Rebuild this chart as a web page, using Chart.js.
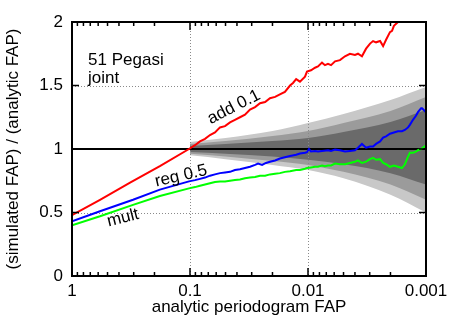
<!DOCTYPE html>
<html>
<head>
<meta charset="utf-8">
<script src="https://cdn.jsdelivr.net/npm/chart.js@4.4.1/dist/chart.umd.min.js"></script>
<style>
    html, body { margin: 0; padding: 0; background: #fff; }
</style>
</head>
<body>
<canvas id="myChart" width="458" height="321"></canvas>
<script>
// tick labels
const xTicks = [1, 0.1, 0.01, 0.001];
const yTicks = [0, 0.5, 1, 1.5, 2];

// "add 0.1" curve
const redP = [1, 0.579, 0.322, 0.180, 0.102, 0.0907, 0.0823, 0.0746, 0.0677, 0.0614, 0.0557, 0.0505, 0.0458, 0.0416, 0.0377, 0.0342, 0.0310, 0.0281, 0.0255, 0.0231, 0.0210, 0.0190, 0.0173, 0.0157, 0.0142, 0.0134, 0.0126, 0.0117, 0.0106, 0.0102,
    0.00943, 0.00872, 0.00823, 0.00761, 0.00718, 0.00677, 0.00638, 0.00590, 0.00536, 0.00486, 0.00441, 0.00400, 0.00377, 0.00349, 0.00322, 0.00298, 0.00281, 0.00265, 0.00245, 0.00231, 0.00218, 0.00202, 0.00194, 0.00187, 0.00173, 0.00160];
const redY = [0.48, 0.60, 0.735, 0.865, 1.0, 1.03, 1.06, 1.08, 1.11, 1.13, 1.17, 1.18, 1.21, 1.23, 1.25, 1.27, 1.31, 1.33, 1.36, 1.37, 1.40, 1.41, 1.43, 1.45, 1.50, 1.52, 1.55, 1.53, 1.57, 1.61,
    1.62, 1.64, 1.65, 1.68, 1.66, 1.67, 1.66, 1.69, 1.70, 1.73, 1.75, 1.74, 1.75, 1.73, 1.79, 1.83, 1.85, 1.84, 1.85, 1.81, 1.86, 1.92, 1.93, 1.97, 2.00, 2.05];

// "reg 0.5" curve
const blueP = [1, 0.579, 0.304, 0.180, 0.102, 0.0907, 0.0823, 0.0746, 0.0677, 0.0614, 0.0557, 0.0505, 0.0458, 0.0416, 0.0377, 0.0342, 0.0310, 0.0281, 0.0265, 0.0245, 0.0227, 0.0210, 0.0190, 0.0173, 0.0157, 0.0142, 0.0126, 0.0117, 0.0106, 0.0102,
    0.00981, 0.00943, 0.00872, 0.00823, 0.00761, 0.00677, 0.00638, 0.00590, 0.00536, 0.00486, 0.00441, 0.00400, 0.00377, 0.00349, 0.00322, 0.00298, 0.00281, 0.00265, 0.00245, 0.00231, 0.00218, 0.00202, 0.00187, 0.00173, 0.00160, 0.00151, 0.00142, 0.00137, 0.00129, 0.00122, 0.00117, 0.00110, 0.00108, 0.001];
const blueY = [0.43, 0.51, 0.60, 0.68, 0.745, 0.755, 0.765, 0.775, 0.79, 0.80, 0.81, 0.815, 0.82, 0.835, 0.84, 0.85, 0.86, 0.875, 0.885, 0.875, 0.89, 0.90, 0.91, 0.925, 0.935, 0.945, 0.955, 0.965, 0.97, 0.975,
    1.0, 0.98, 0.985, 0.98, 0.985, 0.99, 0.985, 0.995, 0.99, 0.98, 0.985, 0.99, 1.01, 1.04, 1.01, 1.02, 1.02, 1.04, 1.06, 1.09, 1.10, 1.12, 1.13, 1.14, 1.14, 1.15, 1.17, 1.19, 1.23, 1.26, 1.29, 1.32, 1.32, 1.29];

// "mult" curve
const greenP = [1, 0.579, 0.304, 0.180, 0.102, 0.0907, 0.0823, 0.0746, 0.0677, 0.0614, 0.0557, 0.0505, 0.0458, 0.0416, 0.0377, 0.0342, 0.0310, 0.0281, 0.0255, 0.0231, 0.0210, 0.0190, 0.0173, 0.0157, 0.0142, 0.0126, 0.0117, 0.0106, 0.0102,
    0.00943, 0.00872, 0.00823, 0.00761, 0.00718, 0.00677, 0.00638, 0.00590, 0.00536, 0.00486, 0.00441, 0.00400, 0.00377, 0.00349, 0.00322, 0.00298, 0.00281, 0.00265, 0.00245, 0.00231, 0.00218, 0.00202, 0.00187, 0.00173, 0.00160, 0.00151, 0.00142, 0.00137, 0.00129, 0.00122, 0.00117, 0.00110, 0.001];
const greenY = [0.40, 0.47, 0.56, 0.63, 0.69, 0.70, 0.71, 0.72, 0.73, 0.74, 0.745, 0.745, 0.75, 0.755, 0.76, 0.77, 0.775, 0.78, 0.79, 0.79, 0.80, 0.805, 0.81, 0.82, 0.825, 0.835, 0.835, 0.845, 0.85,
    0.855, 0.86, 0.86, 0.87, 0.865, 0.87, 0.87, 0.885, 0.88, 0.88, 0.89, 0.90, 0.91, 0.89, 0.90, 0.92, 0.93, 0.915, 0.92, 0.89, 0.88, 0.86, 0.87, 0.86, 0.85, 0.88, 0.94, 0.97, 0.97, 0.98, 0.99, 1.00, 1.03];

// grey confidence bands
const bandP = [0.1, 0.05, 0.02, 0.01, 0.005, 0.002, 0.001];
const lightHi = [1.055, 1.087, 1.142, 1.205, 1.276, 1.386, 1.488];
const lightLo = [0.95, 0.92, 0.875, 0.835, 0.77, 0.64, 0.50];
const midHi = [1.039, 1.063, 1.102, 1.142, 1.205, 1.299, 1.409];
const midLo = [0.962, 0.94, 0.905, 0.875, 0.82, 0.72, 0.60];
const darkHi = [1.024, 1.039, 1.063, 1.087, 1.134, 1.213, 1.307];
const darkLo = [0.976, 0.962, 0.94, 0.915, 0.88, 0.81, 0.72];

// text labels inside the plot
const notes = [
    { text: '51 Pegasi', x: 0.731, y: 1.661, angle: 0, align: 'left' },
    { text: 'joint', x: 0.731, y: 1.52, angle: 0, align: 'left' },
    { text: 'add 0.1', x: 0.0424, y: 1.33, angle: -27, align: 'center' },
    { text: 'reg 0.5', x: 0.119, y: 0.787, angle: -13, align: 'center' },
    { text: 'mult', x: 0.370, y: 0.457, angle: -14, align: 'center' }
];

const FONT = 'Liberation Sans, Arial, Helvetica, sans-serif';

function pts(xs, ys) {
    return xs.map((x, i) => ({ x: x, y: ys[i] }));
}

function band(label, ys, color, order, fill) {
    return {
        label: label,
        data: pts(bandP, ys),
        borderColor: 'rgba(0,0,0,0)',
        borderWidth: 0,
        backgroundColor: color,
        pointRadius: 0,
        cubicInterpolationMode: 'monotone',
        fill: fill ? '+1' : false,
        order: order
    };
}

function curve(label, xs, ys, color) {
    return {
        label: label,
        data: pts(xs, ys),
        borderColor: color,
        borderWidth: 2,
        pointRadius: 0,
        fill: false,
        order: 1
    };
}

// dotted grid + frame + ticks + labels
const decorPlugin = {
    id: 'decor',
    afterDatasetDraw(chart, args) {
        if (chart.data.datasets[args.index].label !== 'darkHi') return;
        const ctx = chart.ctx;
        const a = chart.chartArea;
        const xs = chart.scales.x, ys = chart.scales.y;
        ctx.save();
        ctx.strokeStyle = '#8a8a8a';
        ctx.lineWidth = 1;
        ctx.setLineDash([1, 2]);
        [0.1, 0.01].forEach(function(v) {
            const px = Math.round(xs.getPixelForValue(v)) + 0.5;
            ctx.beginPath(); ctx.moveTo(px, a.top); ctx.lineTo(px, a.bottom); ctx.stroke();
        });
        [0.5, 1.5].forEach(function(v) {
            const py = Math.round(ys.getPixelForValue(v)) + 0.5;
            ctx.beginPath(); ctx.moveTo(a.left, py); ctx.lineTo(a.right, py); ctx.stroke();
        });
        ctx.restore();
    },
    afterDatasetsDraw(chart) {
        const ctx = chart.ctx;
        const a = chart.chartArea;
        const xs = chart.scales.x, ys = chart.scales.y;
        ctx.save();
        ctx.strokeStyle = '#000';
        ctx.lineWidth = 2;
        ctx.setLineDash([]);
        ctx.strokeRect(a.left, a.top, a.right - a.left, a.bottom - a.top);

        ctx.lineWidth = 1.5;
        ctx.beginPath();
        for (let n = 1; n <= 3; n++) {
            for (let k = 1; k <= 9; k++) {
                const v = k * Math.pow(10, -n);
                if (v >= 1) continue;
                const px = xs.getPixelForValue(v);
                const len = (k === 1) ? 8 : 4;
                ctx.moveTo(px, a.bottom); ctx.lineTo(px, a.bottom - len);
                ctx.moveTo(px, a.top); ctx.lineTo(px, a.top + len);
            }
        }
        [0.5, 1, 1.5].forEach(function(v) {
            const py = ys.getPixelForValue(v);
            ctx.moveTo(a.left, py); ctx.lineTo(a.left + 7, py);
            ctx.moveTo(a.right, py); ctx.lineTo(a.right - 7, py);
        });
        ctx.stroke();

        ctx.fillStyle = '#000';
        ctx.font = '17px ' + FONT;
        ctx.textBaseline = 'alphabetic';
        notes.forEach(function(n) {
            const px = xs.getPixelForValue(n.x);
            const py = ys.getPixelForValue(n.y);
            ctx.save();
            ctx.translate(px, py);
            ctx.rotate(n.angle * Math.PI / 180);
            ctx.textAlign = n.align;
            if (n.align === 'center') {
                ctx.textBaseline = 'middle';
            }
            ctx.fillText(n.text, 0, 0);
            ctx.restore();
        });
        ctx.restore();
    }
};

const ctx = document.getElementById('myChart').getContext('2d');

new Chart(ctx, {
    type: 'line',
    data: {
        datasets: [
            curve('add 0.1', redP, redY, '#ff0000'),
            curve('reg 0.5', blueP, blueY, '#0000ff'),
            curve('mult', greenP, greenY, '#00ff00'),
            {
                label: 'one',
                data: [{ x: 1, y: 1 }, { x: 0.001, y: 1 }],
                borderColor: '#000',
                borderWidth: 2,
                pointRadius: 0,
                fill: false,
                order: 5
            },
            band('lightHi', lightHi, '#c8c8c8', 12, true),
            band('lightLo', lightLo, '#c8c8c8', 12, false),
            band('midHi', midHi, '#9b9b9b', 11, true),
            band('midLo', midLo, '#9b9b9b', 11, false),
            band('darkHi', darkHi, '#6a6a6a', 10, true),
            band('darkLo', darkLo, '#6a6a6a', 10, false)
        ]
    },
    options: {
        responsive: false,
        animation: false,
        devicePixelRatio: 1,
        layout: { padding: { top: 22, right: 32, left: 0, bottom: 0 } },
        plugins: {
            legend: { display: false },
            tooltip: { enabled: false }
        },
        scales: {
            x: {
                type: 'logarithmic',
                reverse: true,
                min: 0.001,
                max: 1,
                afterBuildTicks: function(s) { s.ticks = xTicks.map(v => ({ value: v })); },
                afterFit: function(s) { s.height = 45; },
                grid: { display: false, drawTicks: false },
                border: { display: false },
                ticks: {
                    color: '#000',
                    font: { family: FONT, size: 17 },
                    padding: 5,
                    maxRotation: 0,
                    autoSkip: false,
                    callback: function(v) { return String(v); }
                },
                title: {
                    display: true,
                    text: 'analytic periodogram FAP',
                    color: '#000',
                    font: { family: FONT, size: 17, lineHeight: 1.2 },
                    padding: { top: 0, bottom: 3 }
                }
            },
            y: {
                min: 0,
                max: 2,
                afterBuildTicks: function(s) { s.ticks = yTicks.map(v => ({ value: v })); },
                afterFit: function(s) { s.width = 72; },
                grid: { display: false, drawTicks: false },
                border: { display: false },
                ticks: {
                    color: '#000',
                    font: { family: FONT, size: 17 },
                    padding: 9,
                    callback: function(v) { return String(v); }
                },
                title: {
                    display: true,
                    text: '(simulated FAP) / (analytic FAP)',
                    color: '#000',
                    font: { family: FONT, size: 17, lineHeight: 1.2 },
                    padding: { top: 3, bottom: 0 }
                }
            }
        }
    },
    plugins: [decorPlugin]
});
</script>
</body>
</html>
